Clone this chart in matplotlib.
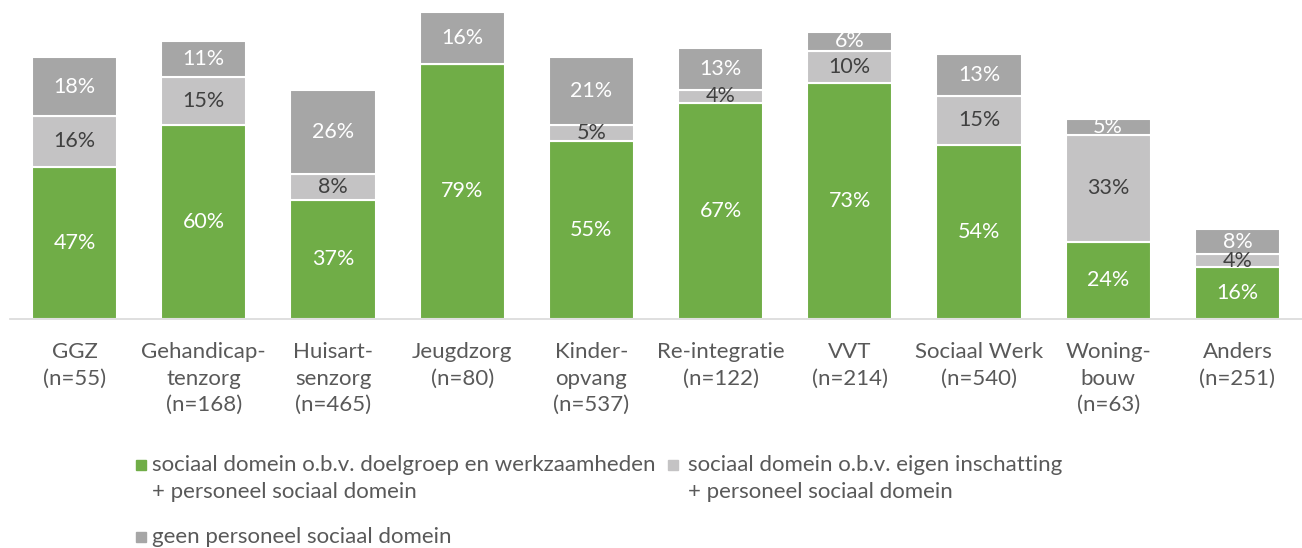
import numpy as np
import matplotlib
matplotlib.use("Agg")
import matplotlib.pyplot as plt
from matplotlib.patches import Rectangle

plt.rcParams["font.family"] = ["Lato", "DejaVu Sans"]

categories = [
    "GGZ\n(n=55)",
    "Gehandicap-\ntenzorg\n(n=168)",
    "Huisart-\nsenzorg\n(n=465)",
    "Jeugdzorg\n(n=80)",
    "Kinder-\nopvang\n(n=537)",
    "Re-integratie\n(n=122)",
    "VVT\n(n=214)",
    "Sociaal Werk\n(n=540)",
    "Woning-\nbouw\n(n=63)",
    "Anders\n(n=251)",
]
doelgroep = [47, 60, 37, 79, 55, 67, 73, 54, 24, 16]
inschatting = [16, 15, 8, 0, 5, 4, 10, 15, 33, 4]
geen = [18, 11, 26, 16, 21, 13, 6, 13, 5, 8]

series_labels = [
    ["sociaal domein o.b.v. doelgroep en werkzaamheden", "+ personeel sociaal domein"],
    ["sociaal domein o.b.v. eigen inschatting", "+ personeel sociaal domein"],
    ["geen personeel sociaal domein"],
]
colors = ["#70AD47", "#C4C3C4", "#A6A6A6"]
text_colors = ["white", "#404040", "white"]

W, H = 1302, 548
fig = plt.figure(figsize=(W / 100, H / 100), dpi=100)
ax = fig.add_axes([10 / W, 1 - 319 / H, 1 - 10 / W, 319 / H])

x = np.arange(len(categories))
bottom = np.zeros(len(categories))
for vals, col, tcol in zip([doelgroep, inschatting, geen], colors, text_colors):
    vals = np.array(vals, dtype=float)
    ax.bar(x, vals, 0.66, bottom=bottom, color=col, edgecolor="white", linewidth=1.5)
    for xi, b, v in zip(x, bottom, vals):
        if v > 0:
            ax.text(xi, b + v / 2, f"{int(v)}%", ha="center", va="center",
                    color=tcol, fontsize=15.5)
    bottom += vals

ax.set_xlim(-0.5, len(categories) - 0.5)
ax.set_ylim(0, 98.8)
ax.set_yticks([])
ax.set_xticks([])
for xi, cat in zip(x, categories):
    ax.annotate(cat, xy=(xi, 0), xycoords=("data", "axes fraction"),
                xytext=(0, -16.5), textcoords="offset points",
                ha="center", va="top", fontsize=16, color="#595959",
                linespacing=1.42)
for side in ["top", "right", "left"]:
    ax.spines[side].set_visible(False)
ax.spines["bottom"].set_color("#D9D9D9")
ax.spines["bottom"].set_linewidth(1.2)

# legend drawn by hand so the swatch sits on the first line of each label
legend_pos = [(136, 465, 152), (668, 465, 688), (136, 537, 152)]
for (px, py, tx), col, lines in zip(legend_pos, colors, series_labels):
    fig.add_artist(Rectangle((px / W, 1 - (py + 5) / H), 10 / W, 10 / H,
                             transform=fig.transFigure, color=col))
    for k, line in enumerate(lines):
        fig.text(tx / W, 1 - (py + 27 * k) / H, line, ha="left",
                 va="center", fontsize=16, color="#595959")

fig.savefig("out.png", dpi=100)
